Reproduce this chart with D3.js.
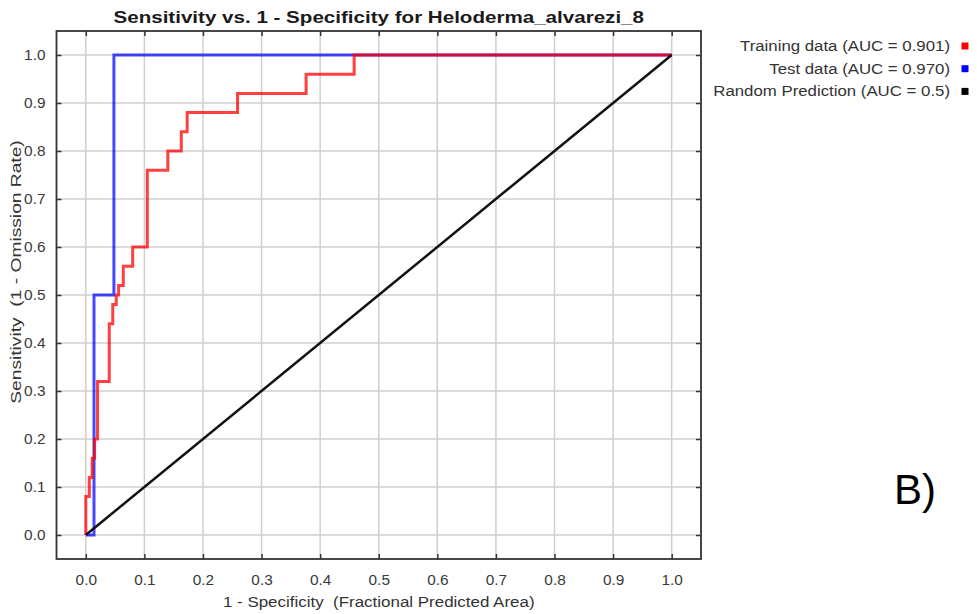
<!DOCTYPE html>
<html>
<head>
<meta charset="utf-8">
<script src="https://cdn.jsdelivr.net/npm/d3@7"></script>
<style>
  body { margin: 0; background: #fff; }
  text { font-family: "Liberation Sans", Arial, sans-serif; }
</style>
</head>
<body>
<svg id="chart" width="977" height="614"></svg>
<script>
const ticks = [0, 0.1, 0.2, 0.3, 0.4, 0.5, 0.6, 0.7, 0.8, 0.9, 1.0];

// ROC vertices (1 - specificity, sensitivity), drawn as steps
const trainFpr = [0, 0, 0.006, 0.011, 0.015, 0.020, 0.040, 0.046, 0.052, 0.056, 0.064, 0.080, 0.105, 0.140, 0.163, 0.173, 0.259, 0.376, 0.458, 1.0];
const trainTpr = [0, 0.08, 0.12, 0.16, 0.20, 0.32, 0.44, 0.48, 0.50, 0.52, 0.56, 0.60, 0.76, 0.80, 0.84, 0.88, 0.92, 0.96, 1.0, 1.0];

const testFpr = [0, 0.014, 0.048, 1.0];
const testTpr = [0, 0.5, 1.0, 1.0];

const randomFpr = [0, 1];
const randomTpr = [0, 1];

const legendLabels = ['Training data (AUC = 0.901)', 'Test data (AUC = 0.970)', 'Random Prediction (AUC = 0.5)'];
const legendColors = ['#ff0000', '#0000ff', '#000000'];

const svg = d3.select('#chart');

const plot = {left: 56.5, right: 701, top: 31, bottom: 559};

const x = d3.scaleLinear().domain([-0.05, 1.05]).range([plot.left, plot.right]);
const y = d3.scaleLinear().domain([-0.05, 1.05]).range([plot.bottom, plot.top]);

const fmt = d3.format('.1f');

// the original picture has its text stretched sideways
const stretch = (sel, k) => sel.each(function() {
  const w = this.getComputedTextLength();
  d3.select(this).attr('textLength', w * k).attr('lengthAdjust', 'spacingAndGlyphs');
});

// grid
svg.append('g')
  .selectAll('line')
  .data(ticks)
  .enter().append('line')
    .attr('x1', d => x(d)).attr('x2', d => x(d))
    .attr('y1', plot.top).attr('y2', plot.bottom)
    .attr('stroke', '#cfcfcf').attr('stroke-width', 1.5);

svg.append('g')
  .selectAll('line')
  .data(ticks)
  .enter().append('line')
    .attr('y1', d => y(d)).attr('y2', d => y(d))
    .attr('x1', plot.left).attr('x2', plot.right)
    .attr('stroke', '#cfcfcf').attr('stroke-width', 1.5);

// axes: ticks point inward on all four sides
const axisStyle = g => {
  g.select('.domain').remove();
  g.selectAll('.tick line').attr('stroke', '#333').attr('stroke-width', 1.5);
  g.selectAll('.tick text')
    .style('font-size', '14px').style('font-family', '"Liberation Sans", Arial, sans-serif')
    .style('fill', '#3a3a3a')
    .call(stretch, 1.1);
};

svg.append('g')
  .attr('transform', `translate(0, ${plot.bottom})`)
  .call(d3.axisBottom(x).tickValues(ticks).tickFormat(fmt).tickSizeInner(-5).tickPadding(16))
  .call(axisStyle);

svg.append('g')
  .attr('transform', `translate(0, ${plot.top})`)
  .call(d3.axisTop(x).tickValues(ticks).tickFormat('').tickSizeInner(-5))
  .call(axisStyle);

svg.append('g')
  .attr('transform', `translate(${plot.left}, 0)`)
  .call(d3.axisLeft(y).tickValues(ticks).tickFormat(fmt).tickSizeInner(-5).tickPadding(11))
  .call(axisStyle);

svg.append('g')
  .attr('transform', `translate(${plot.right}, 0)`)
  .call(d3.axisRight(y).tickValues(ticks).tickFormat('').tickSizeInner(-5))
  .call(axisStyle);

svg.append('rect')
  .attr('x', plot.left).attr('y', plot.top)
  .attr('width', plot.right - plot.left).attr('height', plot.bottom - plot.top)
  .attr('fill', 'none').attr('stroke', '#333').attr('stroke-width', 1.8);

// curves
const stepLine = d3.line()
  .x(d => x(d[0]))
  .y(d => y(d[1]))
  .curve(d3.curveStepAfter);

const straightLine = d3.line()
  .x(d => x(d[0]))
  .y(d => y(d[1]));

svg.append('path')
  .datum(d3.zip(testFpr, testTpr))
  .attr('d', stepLine)
  .attr('fill', 'none').attr('stroke', '#0000ff').attr('stroke-opacity', 0.72).attr('stroke-width', 3);

svg.append('path')
  .datum(d3.zip(trainFpr, trainTpr))
  .attr('d', stepLine)
  .attr('fill', 'none').attr('stroke', '#ff0000').attr('stroke-opacity', 0.75).attr('stroke-width', 3);

svg.append('path')
  .datum(d3.zip(randomFpr, randomTpr))
  .attr('d', straightLine)
  .attr('fill', 'none').attr('stroke', '#111').attr('stroke-width', 2.5);

// titles
svg.append('text')
  .attr('x', (plot.left + plot.right) / 2).attr('y', 23)
  .attr('text-anchor', 'middle')
  .style('font-size', '17px').style('font-weight', 'bold').style('fill', '#1a1a1a')
  .text('Sensitivity vs. 1 - Specificity for Heloderma_alvarezi_8')
  .call(stretch, 1.21);

svg.append('text')
  .attr('x', (plot.left + plot.right) / 2).attr('y', 607)
  .attr('text-anchor', 'middle')
  .style('font-size', '14px').style('fill', '#333')
  .attr('xml:space', 'preserve')
  .text('1 - Specificity  (Fractional Predicted Area)')
  .call(stretch, 1.21);

svg.append('text')
  .attr('transform', 'translate(21, 272) rotate(-90)')
  .attr('text-anchor', 'middle')
  .style('font-size', '15px').style('fill', '#333')
  .attr('xml:space', 'preserve')
  .text('Sensitivity  (1 - Omission Rate)')
  .call(stretch, 1.28);

// legend
const legend = svg.append('g')
  .selectAll('g')
  .data(legendLabels)
  .enter().append('g')
    .attr('transform', (d, i) => `translate(0, ${46 + i * 22.7})`);

legend.append('text')
  .attr('x', 950).attr('dy', '0.35em')
  .attr('text-anchor', 'end')
  .style('font-size', '14px').style('fill', '#333')
  .text(d => d)
  .call(stretch, 1.2);

legend.append('rect')
  .attr('x', 961.5).attr('y', -3.5)
  .attr('width', 7).attr('height', 7)
  .attr('fill', (d, i) => legendColors[i]);

svg.append('text')
  .attr('x', 894).attr('y', 504)
  .style('font-size', '42px').style('fill', '#000')
  .text('B)');
</script>
</body>
</html>
